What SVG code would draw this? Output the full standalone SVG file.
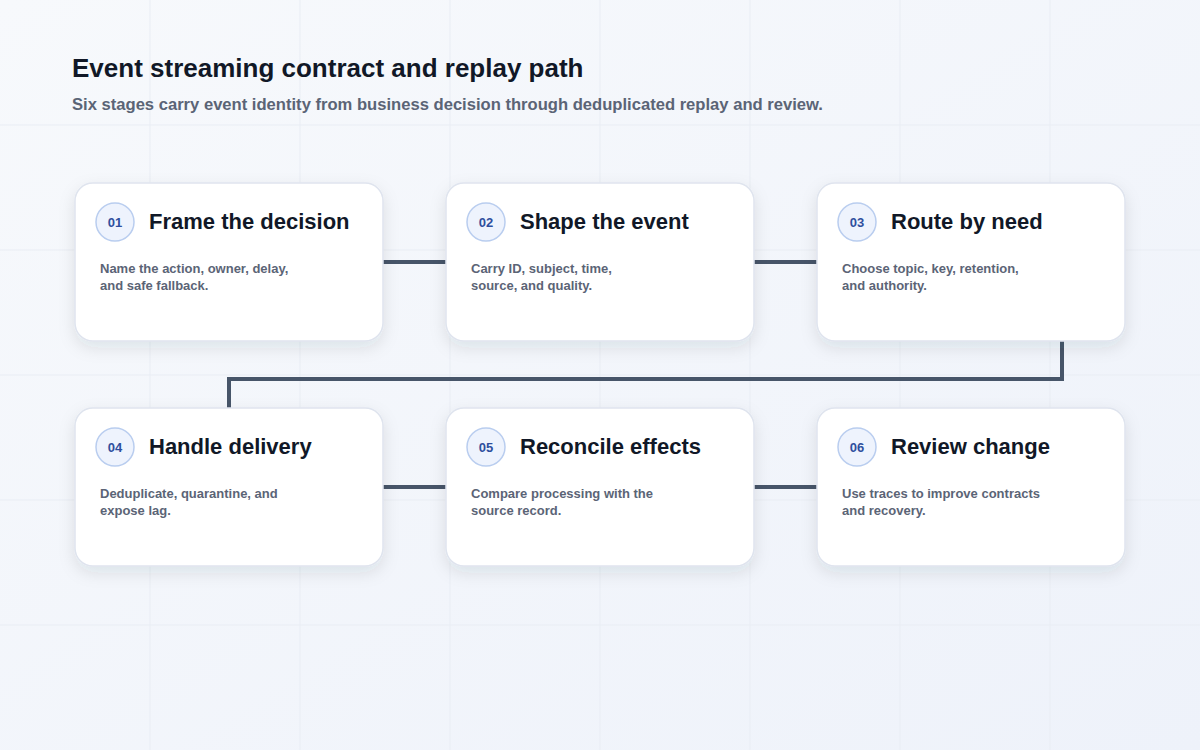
<svg xmlns="http://www.w3.org/2000/svg" width="1200" height="750" viewBox="0 0 1200 750">
<defs>
<linearGradient id="bg" x1="0" y1="0" x2="1" y2="1"><stop offset="0" stop-color="#f7f9fc"/><stop offset="1" stop-color="#eef2fa"/></linearGradient>
<filter id="sh" x="-20%" y="-20%" width="140%" height="150%"><feDropShadow dx="0" dy="6" stdDeviation="8" flood-color="#1e293b" flood-opacity="0.10"/></filter>
<style>
.card{fill:#fff;stroke:#dfe4ee;stroke-width:1.5;filter:url(#sh)}
.badge{fill:#eef3fd;stroke:#b9cdef;stroke-width:1.5}
.num{font:bold 13px "Liberation Sans",Arial,sans-serif;fill:#2f4f9e;text-anchor:middle}
.ttl{font:bold 22px "Liberation Sans",Arial,sans-serif;fill:#111827}
.body{font:bold 13px "Liberation Sans",Arial,sans-serif;fill:#5b6476}
.grid{stroke:#e9edf4;stroke-width:1}
.conn{fill:none;stroke:#475569;stroke-width:4}
</style>
</defs>
<rect width="1200" height="750" fill="url(#bg)"/>
<g class="grid">
<line x1="150" y1="0" x2="150" y2="750"/><line x1="300" y1="0" x2="300" y2="750"/><line x1="450" y1="0" x2="450" y2="750"/><line x1="600" y1="0" x2="600" y2="750"/><line x1="750" y1="0" x2="750" y2="750"/><line x1="900" y1="0" x2="900" y2="750"/><line x1="1050" y1="0" x2="1050" y2="750"/>
<line x1="0" y1="125" x2="1200" y2="125"/><line x1="0" y1="250" x2="1200" y2="250"/><line x1="0" y1="375" x2="1200" y2="375"/><line x1="0" y1="500" x2="1200" y2="500"/><line x1="0" y1="625" x2="1200" y2="625"/>
</g>
<text x="72" y="77" style="font:bold 26px 'Liberation Sans',Arial,sans-serif;fill:#111827">Event streaming contract and replay path</text>
<text x="72" y="110" style="font:bold 16.6px 'Liberation Sans',Arial,sans-serif;fill:#5b6476">Six stages carry event identity from business decision through deduplicated replay and review.</text>
<g id="connectors">
<line class="conn" x1="383" y1="262" x2="446" y2="262"/>
<line class="conn" x1="754" y1="262" x2="817" y2="262"/>
<polyline class="conn" points="1062,341 1062,379 229,379 229,408"/>
<line class="conn" x1="383" y1="487" x2="446" y2="487"/>
<line class="conn" x1="754" y1="487" x2="817" y2="487"/>
</g>
<g id="n1"><rect class="card" x="75" y="183" width="308" height="158" rx="18"/><circle class="badge" cx="115" cy="222" r="19"/><text class="num" x="115" y="227">01</text><text class="ttl" x="149" y="229">Frame the decision</text><text class="body" x="100" y="273">Name the action, owner, delay,</text><text class="body" x="100" y="290">and safe fallback.</text></g>
<g id="n2"><rect class="card" x="446" y="183" width="308" height="158" rx="18"/><circle class="badge" cx="486" cy="222" r="19"/><text class="num" x="486" y="227">02</text><text class="ttl" x="520" y="229">Shape the event</text><text class="body" x="471" y="273">Carry ID, subject, time,</text><text class="body" x="471" y="290">source, and quality.</text></g>
<g id="n3"><rect class="card" x="817" y="183" width="308" height="158" rx="18"/><circle class="badge" cx="857" cy="222" r="19"/><text class="num" x="857" y="227">03</text><text class="ttl" x="891" y="229">Route by need</text><text class="body" x="842" y="273">Choose topic, key, retention,</text><text class="body" x="842" y="290">and authority.</text></g>
<g id="n4"><rect class="card" x="75" y="408" width="308" height="158" rx="18"/><circle class="badge" cx="115" cy="447" r="19"/><text class="num" x="115" y="452">04</text><text class="ttl" x="149" y="454">Handle delivery</text><text class="body" x="100" y="498">Deduplicate, quarantine, and</text><text class="body" x="100" y="515">expose lag.</text></g>
<g id="n5"><rect class="card" x="446" y="408" width="308" height="158" rx="18"/><circle class="badge" cx="486" cy="447" r="19"/><text class="num" x="486" y="452">05</text><text class="ttl" x="520" y="454">Reconcile effects</text><text class="body" x="471" y="498">Compare processing with the</text><text class="body" x="471" y="515">source record.</text></g>
<g id="n6"><rect class="card" x="817" y="408" width="308" height="158" rx="18"/><circle class="badge" cx="857" cy="447" r="19"/><text class="num" x="857" y="452">06</text><text class="ttl" x="891" y="454">Review change</text><text class="body" x="842" y="498">Use traces to improve contracts</text><text class="body" x="842" y="515">and recovery.</text></g>
</svg>
